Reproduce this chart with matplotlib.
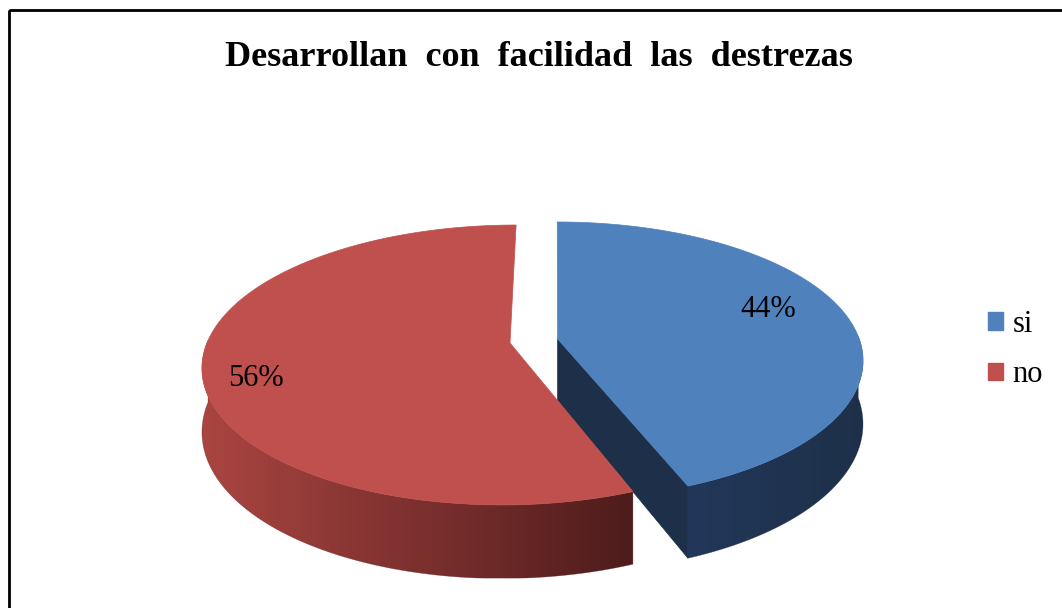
import numpy as np
import matplotlib.pyplot as plt
from matplotlib.patches import Polygon, Rectangle, Patch
from matplotlib.colors import to_rgb

# data
categories = ['si', 'no']
values = [44, 56]
top_colors = ['#4f81bd', '#c0504d']
side_light = ['#22385a', '#aa4541']
side_dark = ['#1e3049', '#4e1c1c']
explode = [0.16, 0.0]
label_r = [0.72, 0.87]

title = 'Desarrollan  con  facilidad  las  destrezas'

fig = plt.figure(figsize=(10.62, 6.08), dpi=100)
ax = fig.add_axes([0, 0, 1, 1])

# geometry of the fake 3d pie (pixel units), with a little perspective
cx = 510
a, b = 303, 136.5
depth = 62
persp = 0.157
xcam, ycam = 555, 343


def proj(X, w, z=0.0):
    s = 1.0 / (1.0 + persp * w)
    return (xcam + (X - xcam) * s, ycam + (-b * w + z) * s)


total = float(sum(values))
start = 90.0
for i, v in enumerate(values):
    sweep = v / total * 360
    t0, t1 = np.radians(start), np.radians(start - sweep)   # clockwise
    mid = (t0 + t1) / 2
    X0 = cx + explode[i] * a * np.cos(mid)
    w0 = explode[i] * np.sin(mid)

    def rim(t, z=0.0):
        return proj(X0 + a * np.cos(t), w0 + np.sin(t), z)

    apex = proj(X0, w0)
    apex_low = proj(X0, w0, depth)
    z = 10 + i

    # visible cut faces
    for phi, sgn in ((t1, 1), (t0, -1)):
        if sgn * np.cos(phi) > 1e-6:
            face = [apex, rim(phi), rim(phi, depth), apex_low]
            ax.add_patch(Polygon(face, closed=True, fc=side_dark[i],
                                 ec=side_dark[i], lw=0.5, zorder=z))

    # outer side wall, filled with a horizontal gradient
    th = np.linspace(t0, t1, 400)
    front = th[np.sin(th) < 0.02]
    if len(front) > 1:
        wall = [rim(t) for t in front] + [rim(t, depth) for t in front[::-1]]
        wall = np.array(wall)
        clip = Polygon(wall, closed=True, fc='none', ec='none', zorder=z + 0.1)
        ax.add_patch(clip)
        x_lo, x_hi = wall[:, 0].min(), wall[:, 0].max()
        y_lo, y_hi = wall[:, 1].min(), wall[:, 1].max()
        ramp = np.linspace(0, 1, 256)[None, :, None]
        c_l = np.array(to_rgb(side_light[i]))[None, None, :]
        c_d = np.array(to_rgb(side_dark[i]))[None, None, :]
        img = c_l + (c_d - c_l) * ramp
        im = ax.imshow(np.repeat(img, 2, axis=0), extent=[x_lo, x_hi, y_hi, y_lo],
                       aspect='auto', interpolation='bilinear', zorder=z + 0.1)
        im.set_clip_path(clip)
        ax.add_patch(Polygon(wall, closed=True, fc='none', ec=side_dark[i],
                             lw=0.4, alpha=0.5, zorder=z + 0.15))

    # top face
    top = [apex] + [rim(t) for t in th]
    ax.add_patch(Polygon(top, closed=True, fc=top_colors[i], ec=top_colors[i],
                         lw=0.5, zorder=z + 0.2))

    # percentage label
    la = mid + np.radians(6)
    ax.text(apex[0] + label_r[i] * 305 * np.cos(la),
            apex[1] - label_r[i] * 140 * np.sin(la),
            f'{v}%', ha='center', va='center', fontsize=22,
            family='Liberation Serif', color='black', zorder=30)
    start -= sweep

ax.text(539, 58, title, ha='center', va='center', fontsize=26,
        family='Liberation Serif', weight='bold', zorder=30)

# chart frame (partly cropped)
ax.add_patch(Rectangle((9, 10), 1200, 800, fill=False, ec='black', lw=2, zorder=40))

handles = [Patch(fc=col, ec=col) for col in top_colors]
ax.legend(handles, categories, loc='upper left',
          bbox_to_anchor=(988 / 1062, 1 - 310 / 608), frameon=False,
          prop={'family': 'Liberation Serif', 'size': 22},
          handlelength=0.5, handleheight=0.5, handletextpad=0.3,
          labelspacing=0.7, borderpad=0, borderaxespad=0)

ax.set_xlim(0, 1062)
ax.set_ylim(608, 0)
ax.axis('off')

fig.savefig('out.png', dpi=100)
